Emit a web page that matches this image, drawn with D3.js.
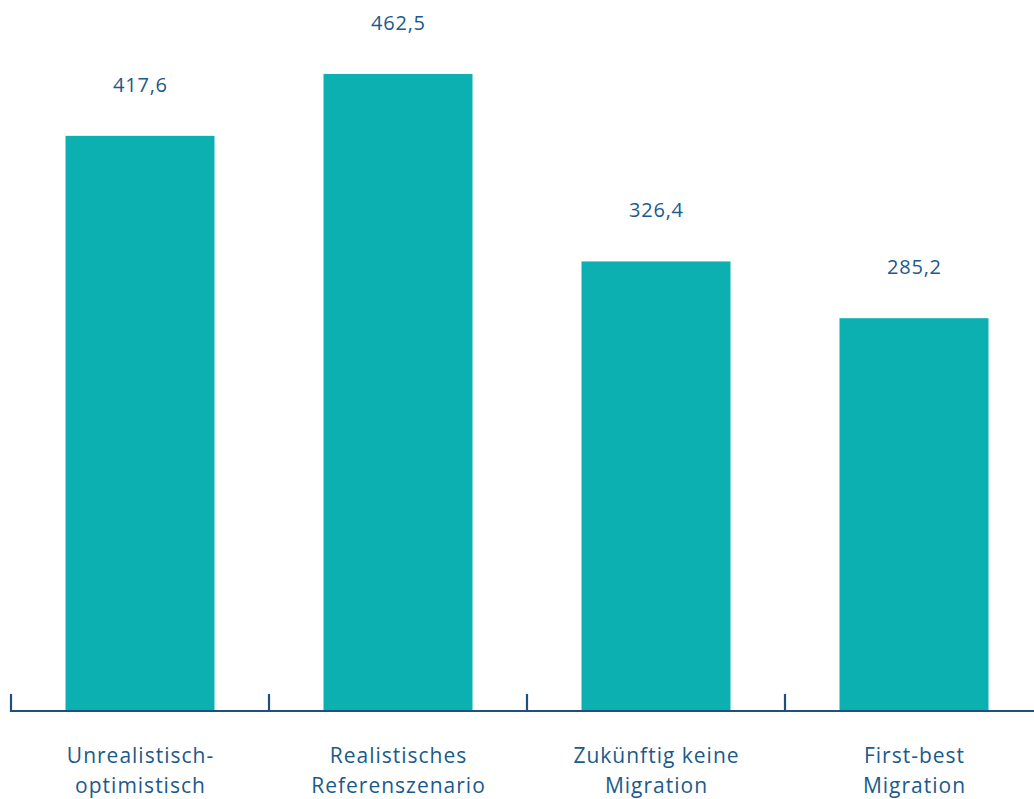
<!DOCTYPE html>
<html><head><meta charset="utf-8">
<script src="https://cdn.jsdelivr.net/npm/d3@7"></script>
<style>body{margin:0;background:#fff}svg{display:block}text{font-family:"Open Sans",sans-serif}</style>
</head><body><svg id="c" width="1034" height="799"></svg>
<script>
const categories = [["Unrealistisch-","optimistisch"],["Realistisches","Referenszenario"],["Zukünftig keine","Migration"],["First-best","Migration"]];
const values = [417.6, 462.5, 326.4, 285.2];
const valueLabels = ["417,6","462,5","326,4","285,2"];

const svg = d3.select("#c");
const keys = categories.map((c,i)=>i);
const x = d3.scaleBand().domain(keys).range([11, 1043]).paddingInner(0.4225).paddingOuter(0.21125);
const y = d3.scaleLinear().domain([0, 462.5]).range([711, 74]);
const textColor = "#1b5a8a", axisColor = "#1f4f7f", barColor = "#0db0b0";

svg.selectAll("rect.bar").data(values).join("rect")
  .attr("x",(d,i)=>x(i)).attr("width",x.bandwidth())
  .attr("y",d=>y(d)).attr("height",d=>y(0)-y(d)).attr("fill",barColor);

svg.selectAll("text.val").data(values).join("text")
  .attr("x",(d,i)=>x(i)+x.bandwidth()/2+0.4).attr("y",d=>y(d)-44)
  .attr("text-anchor","middle").attr("font-size",20).attr("letter-spacing",0.8).attr("fill",textColor)
  .text((d,i)=>valueLabels[i]);

// axis line
svg.append("line").attr("x1",11).attr("x2",1034).attr("y1",711).attr("y2",711)
  .attr("stroke",axisColor).attr("stroke-width",2.2);
// ticks at band boundaries
const step = x.step();
const tickXs = keys.map(i=>x(i)-x.paddingOuter()*step);
svg.selectAll("line.tick").data(tickXs).join("line")
  .attr("x1",d=>d).attr("x2",d=>d).attr("y1",694).attr("y2",712)
  .attr("stroke",axisColor).attr("stroke-width",2.2);

const g = svg.selectAll("text.cat").data(categories).join("text")
  .attr("text-anchor","middle").attr("font-size",21).attr("letter-spacing",1).attr("fill",textColor);
g.each(function(lines,i){
  const t = d3.select(this);
  lines.forEach((l,j)=>t.append("tspan").attr("x",x(i)+x.bandwidth()/2+0.5).attr("y",763+j*30).text(l));
});
</script></body></html>
